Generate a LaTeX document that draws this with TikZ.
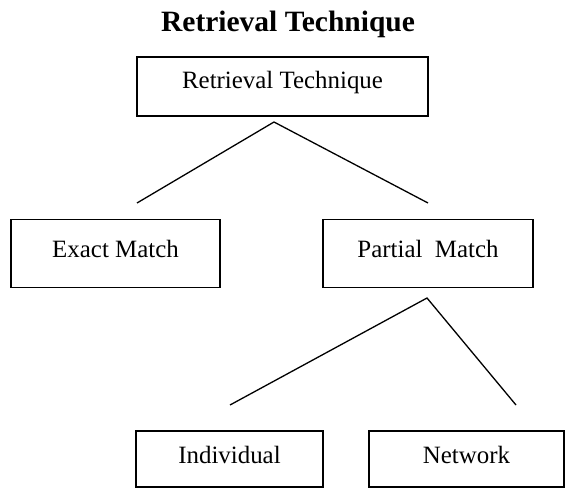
\documentclass[tikz,border=0pt]{standalone}
\usepackage{fontspec}
\setmainfont{Liberation Serif}
\begin{document}
\begin{tikzpicture}[x=1pt,y=-1pt,
  box/.style={draw, line width=1.3pt, rectangle, inner sep=0pt,
    font=\fontsize{24.9}{30}\selectfont, text height=17pt, text depth=9pt},
  link/.style={line width=1.3pt}]
\useasboundingbox (0,0) rectangle (567,489);
\node[font=\bfseries\fontsize{29.5}{35}\selectfont, anchor=base, inner sep=0pt] (title) at (288,32) {Retrieval Technique};
\node[box, minimum width=291pt, minimum height=59pt, text depth=12pt] (root) at (282.5,86.5) {Retrieval Technique};
\node[box, minimum width=209pt, minimum height=68pt] (exact) at (115.5,253.3) {Exact Match};
\node[box, minimum width=210pt, minimum height=68pt] (partial) at (428,253.3) {Partial\ \ Match};
\node[box, minimum width=187pt, minimum height=56pt] (indiv) at (229.5,459) {Individual};
\node[box, minimum width=195pt, minimum height=56pt] (net) at (466.5,459) {Network};
\coordinate (r1) at (274,122);
\coordinate (r1l) at (137,203);
\coordinate (r1r) at (428,203);
\coordinate (p1) at (427,298);
\coordinate (p1l) at (230,405);
\coordinate (p1r) at (516,405);
\draw[link] (r1l) -- (r1) -- (r1r);
\draw[link] (p1l) -- (p1) -- (p1r);
\end{tikzpicture}
\end{document}
